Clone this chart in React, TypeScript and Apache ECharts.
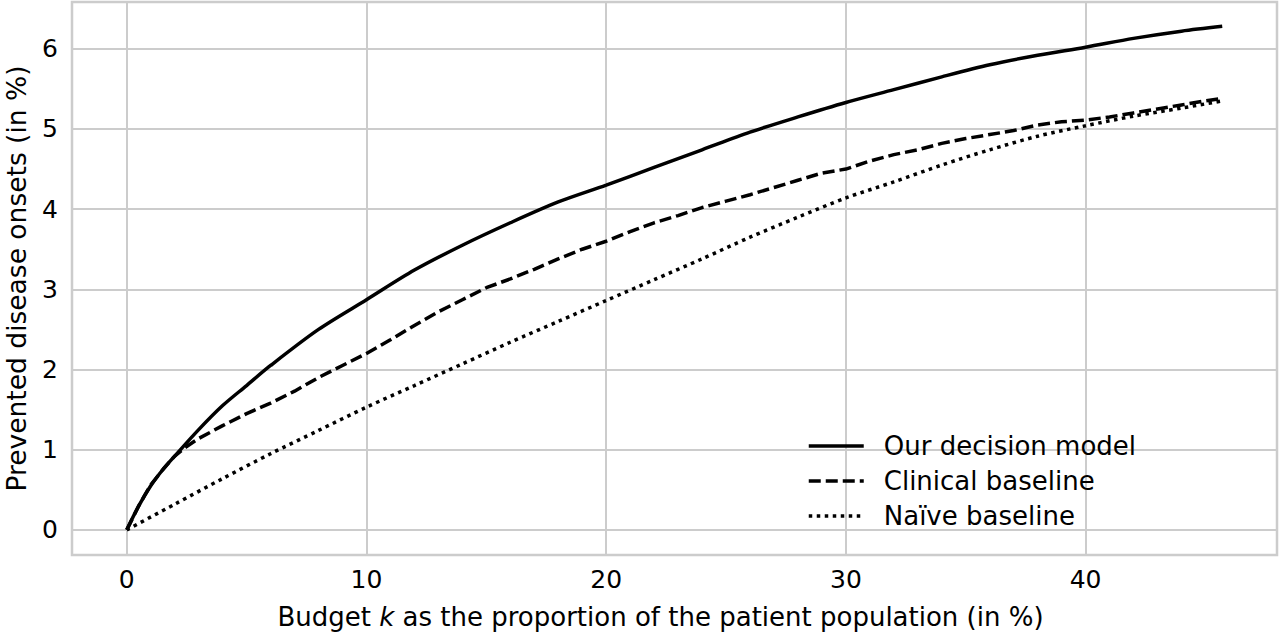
import React, { useEffect, useRef } from "react";
import * as echarts from "echarts";

const modelX = [0, 0.5, 1, 1.5, 2, 3, 4, 5, 6, 8, 10, 12, 14, 16, 18, 20, 22, 24, 26, 28, 30, 32, 34, 36, 38, 40, 42, 44, 45.7];
const modelY = [0, 0.3, 0.55, 0.75, 0.92, 1.25, 1.55, 1.8, 2.05, 2.5, 2.87, 3.24, 3.55, 3.83, 4.09, 4.3, 4.52, 4.74, 4.96, 5.15, 5.33, 5.49, 5.65, 5.8, 5.92, 6.02, 6.13, 6.22, 6.28];

const clinicalX = [0, 0.5, 1, 1.5, 2, 2.5, 3, 4, 5, 6, 7, 8, 9, 10, 11, 12, 13, 14, 15, 16, 17, 18, 19, 20, 21, 22, 23, 24, 25, 26, 27, 28, 29, 30, 31, 32, 33, 34, 35, 36, 37, 38, 39, 40, 41, 42, 43, 44, 45, 45.7];
const clinicalY = [0, 0.3, 0.56, 0.75, 0.92, 1.04, 1.14, 1.3, 1.45, 1.58, 1.73, 1.9, 2.05, 2.2, 2.37, 2.55, 2.72, 2.87, 3.02, 3.13, 3.25, 3.38, 3.5, 3.6, 3.72, 3.83, 3.92, 4.02, 4.1, 4.18, 4.27, 4.36, 4.45, 4.5, 4.6, 4.68, 4.74, 4.82, 4.88, 4.93, 4.98, 5.05, 5.09, 5.11, 5.15, 5.2, 5.25, 5.3, 5.35, 5.38];

const naiveX = [0, 2, 4, 6, 8, 10, 12, 14, 16, 18, 20, 22, 24, 26, 28, 30, 32, 34, 36, 38, 40, 42, 44, 45.7];
const naiveY = [0, 0.32, 0.64, 0.95, 1.24, 1.53, 1.8, 2.07, 2.34, 2.6, 2.86, 3.12, 3.38, 3.65, 3.9, 4.14, 4.34, 4.55, 4.74, 4.91, 5.04, 5.16, 5.26, 5.35];

const seriesNames = ["Our decision model", "Clinical baseline", "Naïve baseline"];
const xTitle = "Budget {i|k} as the proportion of the patient population (in %)";
const yTitle = "Prevented disease onsets (in %)";

const FONT = "DejaVu Sans";

const zip = (xs: number[], ys: number[]) => xs.map((x, i) => [x, ys[i]]);

const intLabel = (v: number) => (Math.abs(v - Math.round(v)) < 1e-6 ? String(Math.round(v)) : "");

export default function App() {
  const ref = useRef<HTMLDivElement>(null);
  useEffect(() => {
    if (!ref.current) return;
    const chart = echarts.init(ref.current, undefined, { renderer: "svg" });
    chart.setOption({
      animation: false,
      backgroundColor: "#ffffff",
      grid: {
        left: 72,
        right: 3,
        top: 2,
        bottom: 80,
        containLabel: false,
        outerBoundsMode: "none",
        show: true,
        borderColor: "#cccccc",
        borderWidth: 2.5,
        backgroundColor: "#ffffff",
      },
      legend: {
        orient: "vertical",
        left: 802,
        top: 428,
        itemWidth: 55,
        itemHeight: 14,
        itemGap: 9,
        itemStyle: { opacity: 0 },
        lineStyle: { width: 3.5 },
        textStyle: { fontFamily: FONT, fontSize: 26, color: "#000", padding: [0, 0, 0, 15] },
        data: seriesNames,
      },
      xAxis: {
        type: "value",
        min: -2.285,
        max: 47.985,
        name: xTitle,
        nameLocation: "middle",
        nameGap: 49,
        nameTextStyle: {
          fontFamily: FONT,
          fontSize: 26,
          color: "#000",
          padding: [0, 28, 0, 0],
          rich: { i: { fontFamily: FONT, fontSize: 26, fontStyle: "italic", color: "#000" } },
        },
        axisLine: { show: false },
        axisTick: { show: false },
        axisLabel: { fontFamily: FONT, fontSize: 25, color: "#000", margin: 12, formatter: intLabel },
        splitLine: { show: true, lineStyle: { color: "#cccccc", width: 2 } },
      },
      yAxis: {
        type: "value",
        min: -0.3135,
        max: 6.5835,
        name: yTitle,
        nameLocation: "middle",
        nameGap: 42,
        nameTextStyle: { fontFamily: FONT, fontSize: 26.5, color: "#000" },
        axisLine: { show: false },
        axisTick: { show: false },
        axisLabel: { fontFamily: FONT, fontSize: 25, color: "#000", margin: 14, formatter: intLabel },
        splitLine: { show: true, lineStyle: { color: "#cccccc", width: 2 } },
      },
      series: [
        {
          name: seriesNames[0],
          type: "line",
          data: zip(modelX, modelY),
          symbol: "none",
          showSymbol: false,
          smooth: 0.3,
          lineStyle: { color: "#000", width: 3.5, type: "solid" },
          itemStyle: { color: "#000" },
          z: 3,
        },
        {
          name: seriesNames[1],
          type: "line",
          data: zip(clinicalX, clinicalY),
          symbol: "none",
          showSymbol: false,
          lineStyle: { color: "#000", width: 3.5, type: [12, 5], cap: "butt" },
          itemStyle: { color: "#000" },
          z: 2,
        },
        {
          name: seriesNames[2],
          type: "line",
          data: zip(naiveX, naiveY),
          symbol: "none",
          showSymbol: false,
          smooth: 0.3,
          lineStyle: { color: "#000", width: 3.5, type: [3.5, 4.5], cap: "butt" },
          itemStyle: { color: "#000" },
          z: 1,
        },
      ],
    });
    return () => chart.dispose();
  }, []);
  return <div ref={ref} style={{ width: 1280, height: 635, position: "absolute", left: 0, top: 0 }} />;
}
